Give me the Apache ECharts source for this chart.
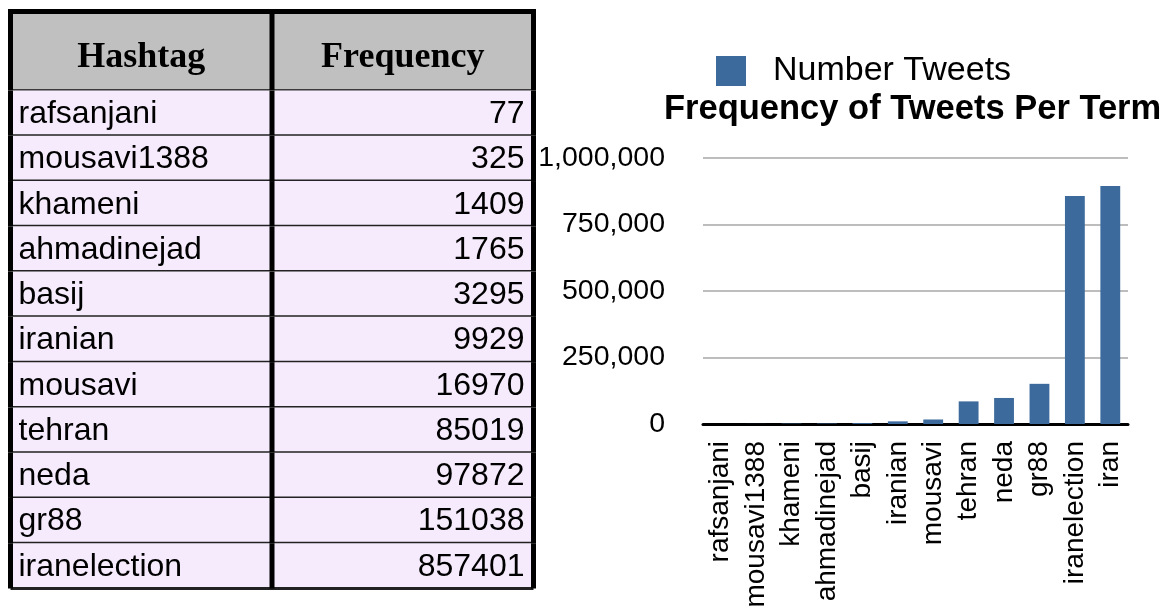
<!DOCTYPE html>
<html>
<head>
<meta charset="utf-8">
<script src="https://cdn.jsdelivr.net/npm/echarts@6/dist/echarts.min.js"></script>
<style>
  html, body { margin: 0; padding: 0; background: #ffffff; }
  #chart { width: 1167px; height: 613px; }
</style>
</head>
<body>
<div id="chart"></div>
<script>
// Hashtags and how many tweets carried each one
const hashtags = ['rafsanjani', 'mousavi1388', 'khameni', 'ahmadinejad', 'basij', 'iranian',
                  'mousavi', 'tehran', 'neda', 'gr88', 'iranelection', 'iran'];
const tweetCounts = [77, 325, 1409, 1765, 3295, 9929, 16970, 85019, 97872, 151038, 857401, 895000];

// Table: column headings and the rows it lists
const tableHeaders = ['Hashtag', 'Frequency'];
const tableRowCount = 11;

// Value axis ticks
const yTicks = [0, 250000, 500000, 750000, 1000000];

const seriesName = 'Number Tweets';
const chartTitle = 'Frequency of Tweets Per Term';

const tableTags = hashtags.slice(0, tableRowCount);
const tableCounts = tweetCounts.slice(0, tableRowCount);

const SANS = '"Liberation Sans", Arial, Helvetica, sans-serif';
const SERIF = '"Liberation Serif", "Times New Roman", serif';
const BAR_BLUE = '#3D6A9C';
const CELL_BG = '#F6EBFC';
const HEAD_BG = '#BFC0BF';
const RULE = '#222222';

// Table geometry
const T_LEFT = 10.5, T_RIGHT = 533.5, T_TOP = 11.5, T_HEAD_BOTTOM = 90.5, T_BOTTOM = 588.5;
const COL_SPLIT = 0.5; // fraction of table width taken by the first column

const chart = echarts.init(document.getElementById('chart'), null, { renderer: 'canvas' });

function renderRow(params, api) {
  const row = api.value(1);
  const center = api.coord([0, row]);
  const h = api.size([0, 1])[1];
  const cs = params.coordSys;
  const top = center[1] - h / 2;
  const x0 = cs.x, x2 = cs.x + cs.width;
  const x1 = cs.x + cs.width * COL_SPLIT;
  return {
    type: 'group',
    children: [
      { type: 'rect', shape: { x: x0, y: top, width: x2 - x0, height: h }, style: { fill: CELL_BG } },
      { type: 'line', shape: { x1: x0, y1: top + h, x2: x2, y2: top + h }, style: { stroke: RULE, lineWidth: 3 } },
      { type: 'line', shape: { x1: x0, y1: top, x2: x0, y2: top + h }, style: { stroke: '#000', lineWidth: 5 } },
      { type: 'line', shape: { x1: x1, y1: top, x2: x1, y2: top + h }, style: { stroke: '#000', lineWidth: 5 } },
      { type: 'line', shape: { x1: x2, y1: top, x2: x2, y2: top + h }, style: { stroke: '#000', lineWidth: 5 } },
      {
        type: 'text', x: x0 + 8, y: center[1] + 1,
        style: { text: tableTags[row], fill: '#000', font: '32px ' + SANS, align: 'left', verticalAlign: 'middle' }
      },
      {
        type: 'text', x: x2 - 9, y: center[1] + 1,
        style: { text: String(api.value(2)), fill: '#000', font: '32px ' + SANS, align: 'right', verticalAlign: 'middle' }
      }
    ]
  };
}

const splitX = T_LEFT + (T_RIGHT - T_LEFT) * COL_SPLIT;

chart.setOption({
  backgroundColor: '#ffffff',
  animation: false,
  title: {
    text: chartTitle,
    left: 664,
    top: 92,
    padding: 0,
    textStyle: { fontFamily: SANS, fontSize: 34.5, fontWeight: 'bold', color: '#000' }
  },
  legend: {
    data: [seriesName],
    left: 716,
    top: 54,
    padding: 0,
    icon: 'rect',
    itemWidth: 30,
    itemHeight: 30,
    textStyle: { fontFamily: SANS, fontSize: 34, color: '#000', padding: [0, 0, 0, 22] }
  },
  graphic: [
    { type: 'rect', shape: { x: T_LEFT, y: T_TOP, width: T_RIGHT - T_LEFT, height: T_HEAD_BOTTOM - T_TOP }, style: { fill: HEAD_BG } },
    { type: 'line', shape: { x1: T_LEFT - 2.5, y1: T_TOP, x2: T_RIGHT + 2.5, y2: T_TOP }, style: { stroke: '#000', lineWidth: 5 } },
    { type: 'line', shape: { x1: T_LEFT, y1: T_HEAD_BOTTOM, x2: T_RIGHT, y2: T_HEAD_BOTTOM }, style: { stroke: '#3a3a3a', lineWidth: 3 } },
    { type: 'line', shape: { x1: T_LEFT, y1: T_TOP, x2: T_LEFT, y2: T_HEAD_BOTTOM }, style: { stroke: '#000', lineWidth: 5 } },
    { type: 'line', shape: { x1: splitX, y1: T_TOP, x2: splitX, y2: T_HEAD_BOTTOM }, style: { stroke: '#000', lineWidth: 5 } },
    { type: 'line', shape: { x1: T_RIGHT, y1: T_TOP, x2: T_RIGHT, y2: T_HEAD_BOTTOM }, style: { stroke: '#000', lineWidth: 5 } },
    {
      type: 'text', x: (T_LEFT + splitX) / 2, y: 58,
      style: { text: tableHeaders[0], fill: '#000', font: 'bold 36px ' + SERIF, align: 'center', verticalAlign: 'middle' }
    },
    {
      type: 'text', x: (splitX + T_RIGHT) / 2, y: 58,
      style: { text: tableHeaders[1], fill: '#000', font: 'bold 36px ' + SERIF, align: 'center', verticalAlign: 'middle' }
    }
  ],
  grid: [
    { left: 703, right: 39, top: 158, bottom: 189 },
    { left: T_LEFT, top: T_HEAD_BOTTOM, width: T_RIGHT - T_LEFT, height: T_BOTTOM - T_HEAD_BOTTOM }
  ],
  xAxis: [
    {
      type: 'category',
      gridIndex: 0,
      data: hashtags,
      axisLine: { show: true, lineStyle: { color: '#000', width: 3 } },
      axisTick: { show: false },
      axisLabel: { interval: 0, rotate: 90, margin: 17, fontFamily: SANS, fontSize: 28, color: '#000' },
      splitLine: { show: false }
    },
    { type: 'value', gridIndex: 1, min: 0, max: 1, show: false }
  ],
  yAxis: [
    {
      type: 'value',
      gridIndex: 0,
      min: yTicks[0],
      max: yTicks[yTicks.length - 1],
      interval: yTicks[1] - yTicks[0],
      axisLine: { show: false },
      axisTick: { show: false },
      axisLabel: {
        margin: 38, fontFamily: SANS, fontSize: 28.5, color: '#000',
        formatter: v => v.toLocaleString('en-US')
      },
      splitLine: { show: true, lineStyle: { color: '#BDBDBD', width: 2 } }
    },
    { type: 'category', gridIndex: 1, data: tableTags, inverse: true, show: false }
  ],
  series: [
    {
      name: seriesName,
      type: 'bar',
      xAxisIndex: 0,
      yAxisIndex: 0,
      data: tweetCounts,
      barWidth: '56%',
      itemStyle: { color: BAR_BLUE },
      z: 1
    },
    {
      type: 'custom',
      xAxisIndex: 1,
      yAxisIndex: 1,
      renderItem: renderRow,
      encode: { x: 0, y: 1 },
      data: tableCounts.map((c, i) => [0, i, c]),
      silent: true
    }
  ]
});
</script>
</body>
</html>
